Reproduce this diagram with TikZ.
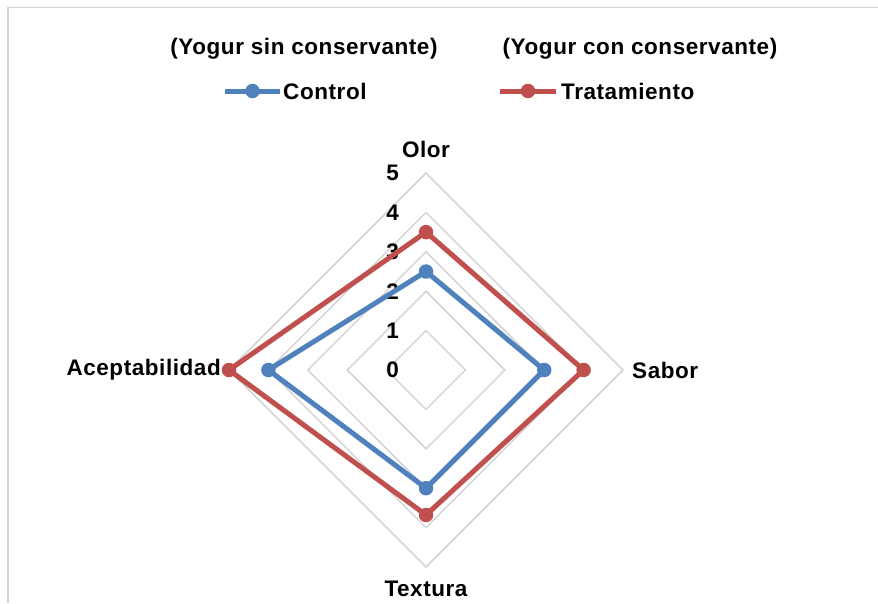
\documentclass[tikz,border=0pt]{standalone}
\usepackage{fontspec}
\usetikzlibrary{calc}
\setmainfont{Liberation Sans}[LetterSpace=2.5]
\definecolor{ctrl}{HTML}{4F81BD}
\definecolor{trat}{HTML}{C0504D}
\definecolor{gridc}{HTML}{D4D4D4}
\begin{document}
\begin{tikzpicture}[x=1pt,y=-1pt,
  lbl/.style={font=\fontsize{22.5}{26}\selectfont\bfseries, inner sep=0pt},
  gridline/.style={draw=gridc, line width=1.5pt},
  serie/.style={line width=5pt, line join=round},
  mk/.style={circle, inner sep=0pt, minimum size=14.5pt},
]
\useasboundingbox (0,0) rectangle (878,603);
\fill[white] (0,0) rectangle (878,603);
% frame
\draw[gridc, line width=1.8pt] (8,603) -- (8,7.5) -- (878,7.5);
\def\R{39.4}
\coordinate (c) at (426,370);
% grid diamonds
\foreach \k in {1,...,5}{
  \draw[gridline] ($(c)+(0,-\k*\R)$) -- ($(c)+(\k*\R,0)$) -- ($(c)+(0,\k*\R)$) -- ($(c)+(-\k*\R,0)$) -- cycle;
}
% axis value labels
\foreach \k in {0,...,5}{
  \node[lbl, anchor=east] (v\k) at ($(c)+(-27,-\k*\R)$) {\k};
}
% category labels
\node[lbl] (olor) at (426,149) {Olor};
\node[lbl, anchor=west] (sabor) at (632,370) {Sabor};
\node[lbl] (textura) at (426,589) {Textura};
\node[lbl, anchor=east] (acept) at (221,370) {Aceptabilidad};
% data points
\coordinate (c1) at ($(c)+(0,-2.5*\R)$);
\coordinate (c2) at ($(c)+(3.0*\R,0)$);
\coordinate (c3) at ($(c)+(0,3.0*\R)$);
\coordinate (c4) at ($(c)+(-4.0*\R,0)$);
\coordinate (t1) at ($(c)+(0,-3.5*\R)$);
\coordinate (t2) at ($(c)+(4.0*\R,0)$);
\coordinate (t3) at ($(c)+(0,3.68*\R)$);
\coordinate (t4) at ($(c)+(-5.0*\R,0)$);
\draw[serie, ctrl] (c1) -- (c2) -- (c3) -- (c4) -- cycle;
\foreach \p in {c1,c2,c3,c4}{\node[mk, fill=ctrl] at (\p) {};}
\draw[serie, trat] (t1) -- (t2) -- (t3) -- (t4) -- cycle;
\foreach \p in {t1,t2,t3,t4}{\node[mk, fill=trat] at (\p) {};}
% legend
\node[lbl] (h1) at (304,49) {(Yogur sin conservante)};
\node[lbl] (h2) at (640,49) {(Yogur con conservante)};
\coordinate (la1) at (225,91);
\coordinate (la2) at (280,91);
\draw[serie, ctrl] (la1) -- (la2);
\node[mk, fill=ctrl] (lm1) at (252.5,91) {};
\node[lbl, anchor=west] (lt1) at (283,91) {Control};
\coordinate (lb1) at (500,91);
\coordinate (lb2) at (556,91);
\draw[serie, trat] (lb1) -- (lb2);
\node[mk, fill=trat] (lm2) at (528,91) {};
\node[lbl, anchor=west] (lt2) at (561,91) {Tratamiento};
\end{tikzpicture}
\end{document}
